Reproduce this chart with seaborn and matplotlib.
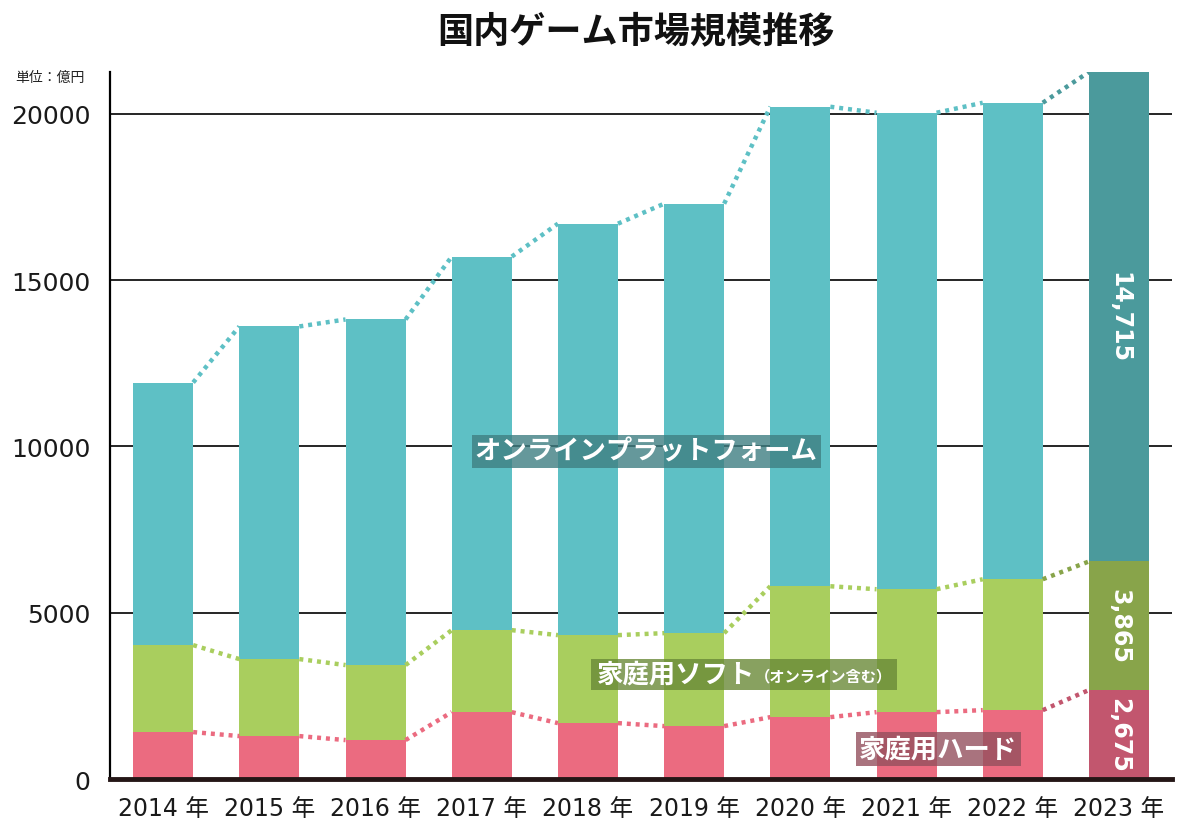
import numpy as np
import pandas as pd
import matplotlib
matplotlib.use("Agg")
import matplotlib.pyplot as plt
from matplotlib.patches import Rectangle
from matplotlib.transforms import Bbox
import seaborn as sns

# values in 億円
years = [2014, 2015, 2016, 2017, 2018, 2019, 2020, 2021, 2022, 2023]
hard = [1410, 1290, 1170, 2010, 1680, 1590, 1860, 2010, 2070, 2675]
soft = [2615, 2315, 2255, 2465, 2645, 2795, 3935, 3695, 3935, 3865]
online = [7895, 10000, 10390, 11230, 12370, 12910, 14415, 14325, 14325, 14715]
year_labels = ['%d 年' % y for y in years]

teal, teal_dk = '#5ec0c5', '#4b9a9c'
green, green_dk = '#a9ce5e', '#88a44a'
pink, pink_dk = '#eb6b80', '#c2566e'

df = pd.DataFrame({'year': year_labels, 'hard': hard, 'soft': soft, 'online': online})
df['soft_top'] = df['hard'] + df['soft']
df['total'] = df['soft_top'] + df['online']

sns.set_style("white")
plt.rcParams['font.family'] = ['Noto Sans CJK JP', 'DejaVu Sans']
num_font = ['DejaVu Sans', 'Noto Sans CJK JP']

fig = plt.figure(figsize=(12, 8.37), dpi=100)
ax = fig.add_axes([0.0917, 0.0681, 0.885, 0.8447])

w = 0.565
n = len(df)
# stacked look: draw cumulative heights from the tallest down
for col, c, c_last in [('total', teal, teal_dk), ('soft_top', green, green_dk), ('hard', pink, pink_dk)]:
    pal = [c] * (n - 1) + [c_last]
    sns.barplot(data=df, x='year', y=col, hue='year', palette=pal, legend=False,
                width=w, saturation=1, linewidth=0, ax=ax, zorder=2)
    tops = df[col].values
    for i in range(n - 1):
        lc = c_last if i == n - 2 else c
        ax.plot([i + w / 2, i + 1 - w / 2], [tops[i], tops[i + 1]], color=lc,
                lw=3.2, linestyle=(0, (0.9, 1.1)), zorder=3, solid_capstyle='butt')

ax.set_xlim(-0.5, n - 0.5)
ax.set_ylim(0, df['total'].iloc[-1])
ax.set_yticks([0, 5000, 10000, 15000, 20000])
ax.set_xlabel('')
ax.set_ylabel('')
ax.tick_params(axis='y', length=0, pad=14, labelsize=18, labelcolor='#1a1a1a')
ax.tick_params(axis='x', length=0, pad=12, labelsize=17, labelcolor='#1a1a1a')
for lab in ax.get_xticklabels() + ax.get_yticklabels():
    lab.set_family(num_font)
ax.yaxis.grid(True, color='black', lw=1.2)
ax.set_axisbelow(True)
for s in ['top', 'right']:
    ax.spines[s].set_visible(False)
ax.spines['left'].set_color('black')
ax.spines['left'].set_linewidth(1.6)
ax.spines['bottom'].set_color('#241616')
ax.spines['bottom'].set_linewidth(3.5)

# value labels in the last bar
last = df.iloc[-1]
for lo, val in [(0, last['hard']), (last['hard'], last['soft']), (last['soft_top'], last['online'])]:
    ax.text(n - 1, lo + val / 2, '{:,}'.format(int(val)), rotation=-90, ha='center', va='center',
            color='white', fontsize=17, fontweight='bold', family=num_font, zorder=6)

# series labels
ax.text(4.55, 9850, 'オンラインプラットフォーム', ha='center', va='center', color='white',
        fontsize=19, fontweight='bold', zorder=6,
        bbox=dict(boxstyle='square,pad=0.12', fc='#3f7f82', ec='none', alpha=0.8))
ax.text(7.3, 900, '家庭用ハード', ha='center', va='center', color='white',
        fontsize=19, fontweight='bold', zorder=6,
        bbox=dict(boxstyle='square,pad=0.12', fc='#94505e', ec='none', alpha=0.8))
t1 = ax.text(4.08, 3150, '家庭用ソフト', ha='left', va='center', color='white',
             fontsize=19, fontweight='bold', zorder=6)
t2 = ax.annotate('（オンライン含む）', xy=(1, 0.45), xycoords=t1, ha='left', va='center',
                 color='white', fontsize=11, fontweight='bold', zorder=6)

fig.canvas.draw()
r = fig.canvas.get_renderer()
bb = Bbox.union([t1.get_window_extent(r), t2.get_window_extent(r)])
bb = Bbox.from_extents(bb.x0 - 5, bb.y0 - 2, bb.x1 + 5, bb.y1 + 2).transformed(ax.transData.inverted())
ax.add_patch(Rectangle((bb.x0, bb.y0), bb.width, bb.height, fc='#6a8a38', ec='none',
                       alpha=0.8, zorder=5))

fig.text(0.53, 0.962, '国内ゲーム市場規模推移', ha='center', va='center',
         fontsize=26, fontweight='bold', color='#111111')
fig.text(0.013, 0.907, '単位：億円', ha='left', va='center', fontsize=10, color='#222222')

fig.savefig('out.png', dpi=100)
